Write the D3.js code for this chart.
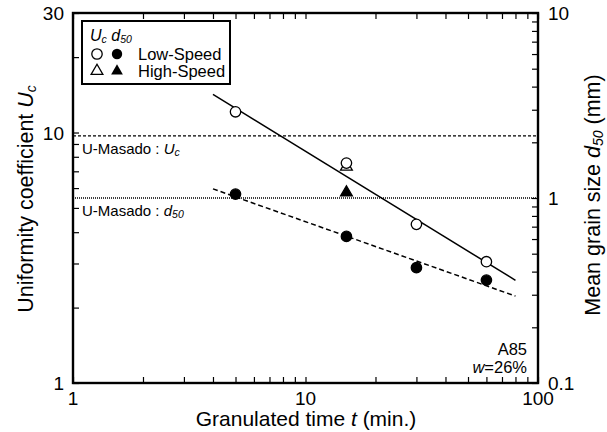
<!DOCTYPE html>
<html>
<head>
<meta charset="utf-8">
<script src="https://cdn.jsdelivr.net/npm/d3@7"></script>
<style>
  body { margin: 0; background: #fff; }
  svg { font-family: "Liberation Sans", Arial, sans-serif; }
</style>
</head>
<body>
<div class="canvas"></div>
<script>
const WIDTH = 607,
  HEIGHT = 432,
  MARGIN = { top: 13, right: 69, bottom: 49, left: 73 };

// granulated time (min.)
const times = [5, 15, 30, 60];
const lowUc = [12.1, 7.55, 4.3, 3.05];
const lowD50 = [1.05, 0.62, 0.42, 0.36];
const highTime = [15];
const highUc = [7.3];
const highD50 = [1.07];

// fitted lines (end points)
const fitTime = [4, 80];
const fitUc = [14.2, 2.57];
const fitD50 = [1.12, 0.295];

// U-Masado reference values
const masadoUc = 9.7;
const masadoD50 = 1.0;

const xTicks = [1, 10, 100],
  ucTicks = [1, 10, 30],
  d50Ticks = [0.1, 1, 10];

const plotW = WIDTH - MARGIN.left - MARGIN.right,
  plotH = HEIGHT - MARGIN.top - MARGIN.bottom;

const x = d3.scaleLog().domain([1, 100]).range([0, plotW]);
const yUc = d3.scaleLog().domain([1, 30]).range([plotH, 0]);
const yD50 = d3.scaleLog().domain([0.1, 10]).range([plotH, 0]);

const svg = d3
  .select(".canvas")
  .append("svg")
  .attr("width", WIDTH)
  .attr("height", HEIGHT);

const g = svg
  .append("g")
  .attr("transform", `translate(${MARGIN.left},${MARGIN.top})`);

// all 1..9 x 10^n ticks inside the domain
function decadeTicks(scale) {
  const [a, b] = d3.extent(scale.domain());
  const out = [];
  for (let e = Math.floor(Math.log10(a)); e <= Math.ceil(Math.log10(b)); e++) {
    for (let m = 1; m <= 9; m++) {
      const v = m * Math.pow(10, e);
      if (v >= a * 0.999 && v <= b * 1.001) out.push(v);
    }
  }
  return out;
}

const TICK = 6;

function tickAxis(axis, scale, transform) {
  const a = g
    .append("g")
    .attr("transform", transform)
    .call(axis(scale).tickValues(decadeTicks(scale)).tickSize(TICK).tickFormat(""));
  a.select(".domain").remove();
  a.selectAll(".tick line").attr("stroke", "#000").attr("stroke-width", 1.2);
}

// inward ticks on all four sides
tickAxis(d3.axisTop, x, `translate(0,${plotH})`);
tickAxis(d3.axisBottom, x, "translate(0,0)");
tickAxis(d3.axisRight, yUc, "translate(0,0)");
tickAxis(d3.axisLeft, yD50, `translate(${plotW},0)`);

// tick labels
const fmt = (v) => String(v);
g.append("g")
  .selectAll("text")
  .data(xTicks)
  .enter()
  .append("text")
  .attr("x", (d) => x(d))
  .attr("y", plotH + 22)
  .attr("text-anchor", "middle")
  .attr("font-size", 19)
  .text(fmt);

g.append("g")
  .selectAll("text")
  .data(ucTicks)
  .enter()
  .append("text")
  .attr("x", -9)
  .attr("y", (d) => yUc(d) + 7)
  .attr("text-anchor", "end")
  .attr("font-size", 19)
  .text(fmt);

g.append("g")
  .selectAll("text")
  .data(d50Ticks)
  .enter()
  .append("text")
  .attr("x", plotW + 10)
  .attr("y", (d) => yD50(d) + 7)
  .attr("text-anchor", "start")
  .attr("font-size", 19)
  .text(fmt);

// reference lines
g.append("line")
  .attr("x1", 0)
  .attr("x2", plotW)
  .attr("y1", yUc(masadoUc))
  .attr("y2", yUc(masadoUc))
  .attr("stroke", "#000")
  .attr("stroke-width", 1.3)
  .attr("stroke-dasharray", "3,2");

g.append("line")
  .attr("x1", 0)
  .attr("x2", plotW)
  .attr("y1", yD50(masadoD50))
  .attr("y2", yD50(masadoD50))
  .attr("stroke", "#000")
  .attr("stroke-width", 1.3)
  .attr("stroke-dasharray", "1,1");

function refLabel(y, sym, sub) {
  const t = g
    .append("text")
    .attr("x", 9)
    .attr("y", y)
    .attr("font-size", 15)
    .text("U-Masado : ");
  t.append("tspan").attr("font-style", "italic").text(sym);
  t.append("tspan")
    .attr("font-style", "italic")
    .attr("font-size", 10.5)
    .attr("dy", 2)
    .text(sub);
}
refLabel(yUc(masadoUc) + 18, "U", "c");
refLabel(yD50(masadoD50) + 18, "d", "50");

// fit lines
const fitUcLine = d3
  .line()
  .x((d, i) => x(fitTime[i]))
  .y((d) => yUc(d));
const fitD50Line = d3
  .line()
  .x((d, i) => x(fitTime[i]))
  .y((d) => yD50(d));

g.append("path")
  .attr("d", fitUcLine(fitUc))
  .attr("fill", "none")
  .attr("stroke", "#000")
  .attr("stroke-width", 1.5);

g.append("path")
  .attr("d", fitD50Line(fitD50))
  .attr("fill", "none")
  .attr("stroke", "#000")
  .attr("stroke-width", 1.5)
  .attr("stroke-dasharray", "5,3");

// markers
const circle = d3.symbol().type(d3.symbolCircle).size(85);
const tri = d3.symbol().type(d3.symbolTriangle).size(60);

function drawPoints(ts, vals, scale, sym, fill) {
  g.append("g")
    .selectAll("path")
    .data(vals)
    .enter()
    .append("path")
    .attr("d", sym)
    .attr("transform", (d, i) => `translate(${x(ts[i])},${scale(d)})`)
    .attr("fill", fill)
    .attr("stroke", "#000")
    .attr("stroke-width", 1.3);
}

drawPoints(highTime, highUc, yUc, tri, "#fff");
drawPoints(times, lowUc, yUc, circle, "#fff");
drawPoints(times, lowD50, yD50, circle, "#000");
drawPoints(highTime, highD50, yD50, tri, "#000");

// frame
g.append("rect")
  .attr("width", plotW)
  .attr("height", plotH)
  .attr("fill", "none")
  .attr("stroke", "#000")
  .attr("stroke-width", 2.4);

// legend
const legend = g.append("g").attr("transform", "translate(9,8)");
legend
  .append("rect")
  .attr("width", 148)
  .attr("height", 63)
  .attr("fill", "#fff")
  .attr("stroke", "#000")
  .attr("stroke-width", 2);

const lt = legend
  .append("text")
  .attr("x", 8)
  .attr("y", 20)
  .attr("font-size", 16)
  .attr("font-style", "italic");
lt.append("tspan").text("U");
lt.append("tspan").attr("font-size", 10.5).attr("dy", 2).text("c");
lt.append("tspan").attr("dy", -2).text(" d");
lt.append("tspan").attr("font-size", 10.5).attr("dy", 2).text("50");

const legendRows = [
  { label: "Low-Speed", sym: circle },
  { label: "High-Speed", sym: tri },
];
const row = legend
  .selectAll("g.row")
  .data(legendRows)
  .enter()
  .append("g")
  .attr("class", "row")
  .attr("transform", (d, i) => `translate(0,${33 + i * 17})`);

row
  .append("path")
  .attr("d", (d) => d.sym())
  .attr("transform", "translate(15,0)")
  .attr("fill", "#fff")
  .attr("stroke", "#000")
  .attr("stroke-width", 1.3);
row
  .append("path")
  .attr("d", (d) => d.sym())
  .attr("transform", "translate(35,0)")
  .attr("fill", "#000");
row
  .append("text")
  .attr("x", 56)
  .attr("y", 6)
  .attr("font-size", 16.5)
  .text((d) => d.label);

// sample note
g.append("text")
  .attr("x", plotW - 11)
  .attr("y", plotH - 28)
  .attr("text-anchor", "end")
  .attr("font-size", 16.5)
  .text("A85");
const wt = g
  .append("text")
  .attr("x", plotW - 11)
  .attr("y", plotH - 10)
  .attr("text-anchor", "end")
  .attr("font-size", 16.5);
wt.append("tspan").attr("font-style", "italic").text("w");
wt.append("tspan").text("=26%");

// axis titles
const xt = svg
  .append("text")
  .attr("x", 306)
  .attr("y", 426)
  .attr("text-anchor", "middle")
  .attr("font-size", 21)
  .text("Granulated time ");
xt.append("tspan").attr("font-style", "italic").text("t");
xt.append("tspan").text(" (min.)");

const yl = svg
  .append("text")
  .attr("transform", "translate(33,199) rotate(-90)")
  .attr("text-anchor", "middle")
  .attr("font-size", 21.5)
  .text("Uniformity coefficient ");
yl.append("tspan").attr("font-style", "italic").text("U");
yl.append("tspan").attr("font-style", "italic").attr("font-size", 14).attr("dy", 3).text("c");

const yr = svg
  .append("text")
  .attr("transform", "translate(600,195) rotate(-90)")
  .attr("text-anchor", "middle")
  .attr("font-size", 21.5)
  .text("Mean grain size ");
yr.append("tspan").attr("font-style", "italic").text("d");
yr.append("tspan").attr("font-style", "italic").attr("font-size", 14).attr("dy", 3).text("50");
yr.append("tspan").attr("dy", -3).text(" (mm)");
</script>
</body>
</html>
